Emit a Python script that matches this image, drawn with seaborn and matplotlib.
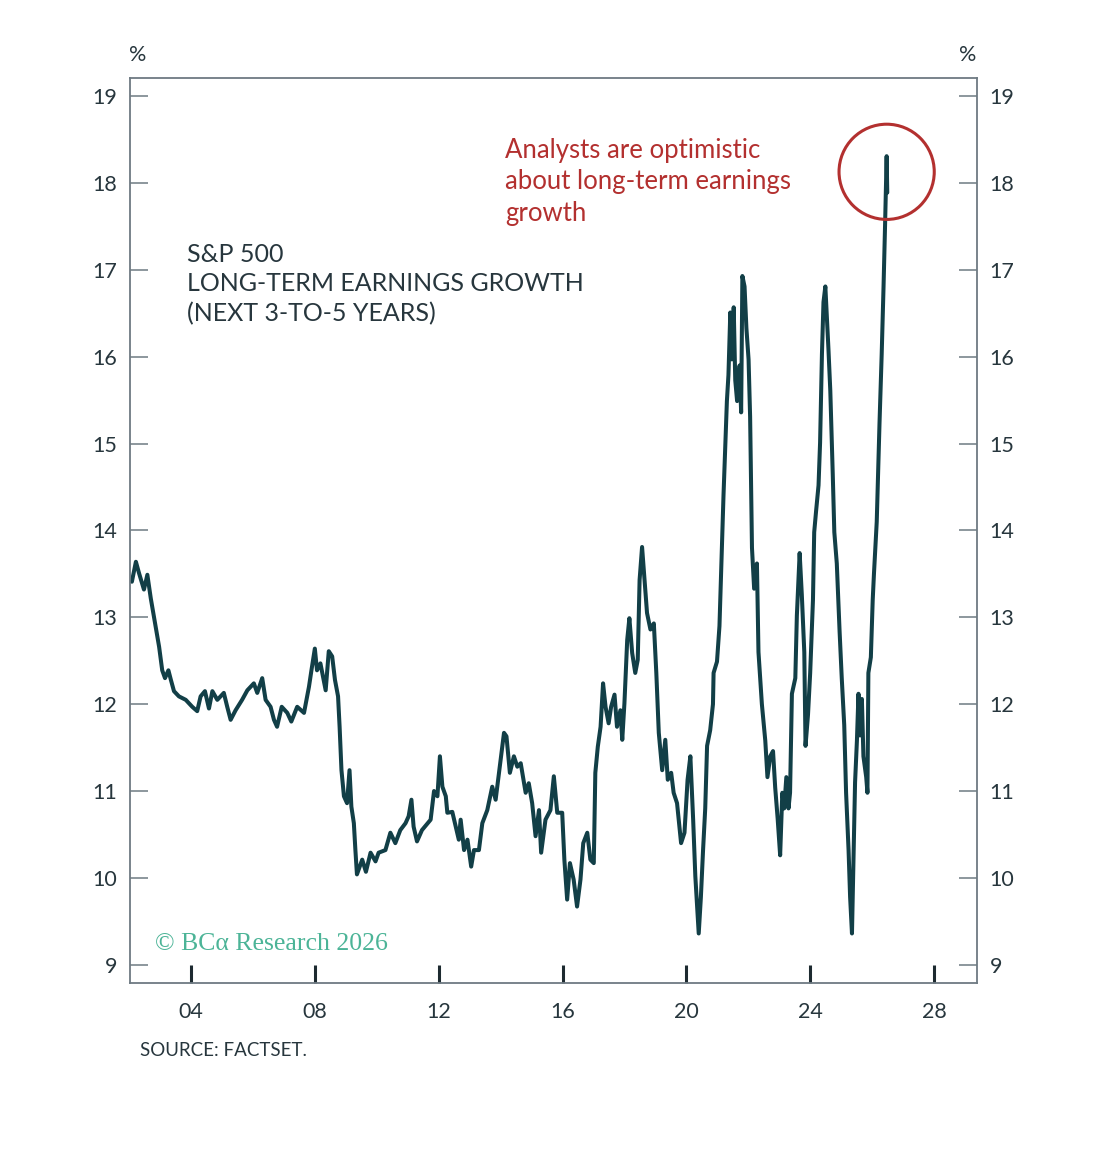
import numpy as np
import pandas as pd
import seaborn as sns
import matplotlib.pyplot as plt

# S&P 500 long-term earnings growth estimates (next 3-to-5 years), %
years = [
    2002.09, 2002.22, 2002.32, 2002.48, 2002.59, 2002.70, 2002.86, 2002.97, 2003.07, 2003.16,
    2003.27, 2003.35, 2003.45, 2003.61, 2003.83, 2004.04, 2004.20, 2004.31, 2004.45, 2004.58,
    2004.69, 2004.85, 2005.06, 2005.17, 2005.28, 2005.44, 2005.65, 2005.82, 2006.03, 2006.14,
    2006.30, 2006.41, 2006.57, 2006.68, 2006.78, 2006.93, 2007.11, 2007.24, 2007.43, 2007.65,
    2007.81, 2007.89, 2008.00, 2008.07, 2008.18, 2008.35, 2008.45, 2008.56, 2008.65, 2008.75,
    2008.80, 2008.86, 2008.94, 2009.04, 2009.12, 2009.18, 2009.26, 2009.31, 2009.36, 2009.53,
    2009.65, 2009.80, 2009.96, 2010.06, 2010.28, 2010.44, 2010.60, 2010.76, 2010.93, 2011.03,
    2011.12, 2011.19, 2011.30, 2011.46, 2011.74, 2011.85, 2011.96, 2012.04, 2012.12, 2012.23,
    2012.28, 2012.44, 2012.55, 2012.65, 2012.71, 2012.82, 2012.93, 2013.05, 2013.14, 2013.30,
    2013.41, 2013.57, 2013.73, 2013.84, 2014.00, 2014.11, 2014.19, 2014.30, 2014.43, 2014.54,
    2014.65, 2014.81, 2014.91, 2015.02, 2015.13, 2015.24, 2015.31, 2015.45, 2015.61, 2015.72,
    2015.83, 2015.99, 2016.06, 2016.15, 2016.24, 2016.36, 2016.47, 2016.58, 2016.67, 2016.80,
    2016.90, 2017.01, 2017.06, 2017.14, 2017.23, 2017.31, 2017.39, 2017.49, 2017.57, 2017.68,
    2017.76, 2017.87, 2017.93, 2018.00, 2018.09, 2018.16, 2018.25, 2018.35, 2018.43, 2018.49,
    2018.57, 2018.65, 2018.73, 2018.84, 2018.95, 2019.03, 2019.11, 2019.22, 2019.32, 2019.40,
    2019.51, 2019.59, 2019.70, 2019.83, 2019.94, 2020.04, 2020.13, 2020.22, 2020.29, 2020.40,
    2020.47, 2020.54, 2020.61, 2020.67, 2020.77, 2020.86, 2020.88, 2020.99, 2021.07, 2021.15,
    2021.20, 2021.31, 2021.36, 2021.42, 2021.47, 2021.53, 2021.58, 2021.64, 2021.72, 2021.77,
    2021.81, 2021.88, 2021.94, 2022.01, 2022.06, 2022.12, 2022.19, 2022.28, 2022.33, 2022.44,
    2022.55, 2022.62, 2022.71, 2022.80, 2022.87, 2022.95, 2023.03, 2023.10, 2023.16, 2023.23,
    2023.30, 2023.35, 2023.41, 2023.52, 2023.57, 2023.66, 2023.73, 2023.81, 2023.85, 2023.93,
    2024.00, 2024.09, 2024.13, 2024.19, 2024.27, 2024.32, 2024.38, 2024.43, 2024.49, 2024.54,
    2024.59, 2024.65, 2024.70, 2024.73, 2024.78, 2024.86, 2024.95, 2025.02, 2025.10, 2025.16,
    2025.24, 2025.29, 2025.35, 2025.40, 2025.45, 2025.51, 2025.56, 2025.61, 2025.67, 2025.72,
    2025.81, 2025.85, 2025.88, 2025.96, 2026.02, 2026.06, 2026.15, 2026.24, 2026.31, 2026.37,
    2026.42, 2026.47, 2026.49,
]
growth = [
    13.41, 13.64, 13.51, 13.32, 13.49, 13.22, 12.89, 12.66, 12.39, 12.30,
    12.39, 12.28, 12.15, 12.09, 12.05, 11.97, 11.92, 12.09, 12.15, 11.95,
    12.15, 12.05, 12.13, 11.97, 11.82, 11.93, 12.05, 12.16, 12.24, 12.13,
    12.30, 12.05, 11.97, 11.82, 11.74, 11.97, 11.90, 11.80, 11.97, 11.90,
    12.20, 12.39, 12.64, 12.39, 12.47, 12.16, 12.61, 12.55, 12.28, 12.09,
    11.74, 11.24, 10.94, 10.86, 11.24, 10.82, 10.63, 10.32, 10.04, 10.21,
    10.07, 10.29, 10.19, 10.29, 10.32, 10.52, 10.40, 10.55, 10.63, 10.71,
    10.90, 10.59, 10.42, 10.55, 10.67, 11.00, 10.94, 11.40, 11.05, 10.94,
    10.75, 10.76, 10.59, 10.44, 10.67, 10.32, 10.44, 10.13, 10.32, 10.32,
    10.63, 10.78, 11.05, 10.90, 11.36, 11.67, 11.63, 11.21, 11.40, 11.28,
    11.32, 10.98, 11.09, 10.86, 10.48, 10.78, 10.29, 10.67, 10.78, 11.17,
    10.75, 10.75, 10.21, 9.75, 10.17, 9.98, 9.67, 9.98, 10.40, 10.52,
    10.21, 10.17, 11.21, 11.51, 11.74, 12.24, 11.97, 11.78, 11.97, 12.11,
    11.74, 11.93, 11.59, 12.01, 12.74, 12.99, 12.59, 12.36, 12.51, 13.43,
    13.81, 13.43, 13.05, 12.86, 12.93, 12.36, 11.67, 11.24, 11.59, 11.13,
    11.21, 10.98, 10.86, 10.40, 10.52, 11.13, 11.40, 10.67, 10.02, 9.36,
    9.78, 10.32, 10.80, 11.52, 11.70, 12.00, 12.36, 12.49, 12.90, 13.80,
    14.40, 15.49, 15.79, 16.51, 15.97, 16.57, 15.73, 15.49, 15.90, 15.36,
    16.93, 16.81, 16.33, 15.97, 15.31, 13.80, 13.33, 13.62, 12.60, 12.00,
    11.58, 11.16, 11.40, 11.46, 11.04, 10.68, 10.26, 10.98, 10.80, 11.16,
    10.80, 10.98, 12.12, 12.30, 13.02, 13.74, 13.26, 12.60, 11.52, 11.88,
    12.36, 13.20, 13.98, 14.22, 14.52, 15.01, 16.03, 16.63, 16.81, 16.45,
    16.09, 15.61, 15.01, 14.64, 13.98, 13.62, 12.84, 12.30, 11.76, 10.98,
    10.32, 9.78, 9.36, 10.20, 11.10, 11.58, 12.12, 11.64, 12.06, 11.40,
    11.16, 10.98, 12.36, 12.54, 13.20, 13.50, 14.10, 15.24, 16.03, 16.81,
    17.53, 18.31, 17.89,
]

x_ticks = [2004, 2008, 2012, 2016, 2020, 2024, 2028]
x_tick_labels = ["04", "08", "12", "16", "20", "24", "28"]
y_ticks = [9, 10, 11, 12, 13, 14, 15, 16, 17, 18, 19]

title_text = "S&P 500\nLONG-TERM EARNINGS GROWTH\n(NEXT 3-TO-5 YEARS)"
note_text = "Analysts are optimistic\nabout long-term earnings\ngrowth"
source_text = "SOURCE: FACTSET."
brand_text = "\u00a9 BC\u03b1 Research 2026"

line_col = "#123f47"
frame_col = "#6e7a82"
text_col = "#27363d"
red = "#b3302f"

df = pd.DataFrame({"year": years, "growth": growth})

sns.set_theme(style="white")
plt.rcParams["font.family"] = ["Lato", "DejaVu Sans"]

fig = plt.figure(figsize=(11.17, 11.49), dpi=100)
ax = fig.add_axes([0.1164, 0.1445, 0.7583, 0.7876])

sns.lineplot(data=df, x="year", y="growth", ax=ax, color=line_col, linewidth=2.9)

ax.set_xlim(2002.03, 2029.39)
ax.set_ylim(8.79, 19.21)
ax.set_xlabel("")
ax.set_ylabel("")

for s in ax.spines.values():
    s.set_visible(True)
    s.set_color(frame_col)
    s.set_linewidth(1.3)

ax.set_yticks(y_ticks)
ax.tick_params(axis="y", which="both", direction="in", length=13, width=1.1,
               color=frame_col, left=True, right=True, labelleft=True, labelright=True,
               labelsize=15.5, labelcolor=text_col, pad=9)
ax.set_xticks(x_ticks)
ax.set_xticklabels(x_tick_labels)
ax.tick_params(axis="x", direction="in", length=13, width=2.2, color="#1d2a30",
               bottom=True, top=False, labelsize=15.5, labelcolor=text_col, pad=14)

fig.text(138 / 1117, 1 - 55 / 1149, "%", ha="center", va="center", fontsize=15.5, color=text_col)
fig.text(968 / 1117, 1 - 55 / 1149, "%", ha="center", va="center", fontsize=15.5, color=text_col)

ax.text(0.067, 0.818, title_text, transform=ax.transAxes, ha="left", va="top",
        fontsize=18, color=text_col, linespacing=1.35)
ax.text(0.443, 0.934, note_text, transform=ax.transAxes, ha="left", va="top",
        fontsize=18.5, color=red, linespacing=1.32)

# circle around the latest reading
peak = int(np.argmax(growth))
ax.scatter([years[peak]], [growth[peak] - 0.18], s=4700, facecolors="none",
           edgecolors=red, linewidths=2.2, zorder=5)

ax.text(0.03, 0.043, brand_text, transform=ax.transAxes, ha="left", va="center",
        fontsize=18.5, color="#4cb497", family=["Liberation Serif", "DejaVu Serif"])

fig.text(140 / 1117, 1 - 1050 / 1149, source_text, ha="left", va="center",
         fontsize=13.5, color=text_col)

fig.savefig("out.png", dpi=100, facecolor="white")
